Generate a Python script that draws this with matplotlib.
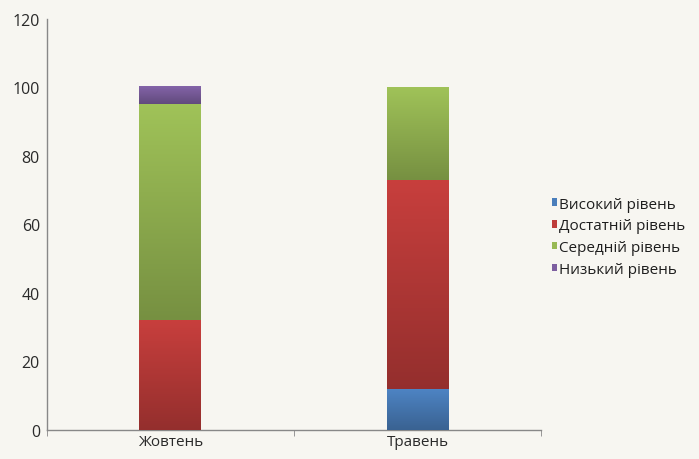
import numpy as np
import matplotlib.pyplot as plt
from matplotlib.patches import Patch

plt.rcParams['font.family'] = ['Open Sans', 'DejaVu Sans']

# Data
months = ["Жовтень", "Травень"]
levels = ["Високий рівень", "Достатній рівень", "Середній рівень", "Низький рівень"]
high = [0, 12]
sufficient = [32, 61]
medium = [63, 27]
low = [5, 0]
colors = ["#4a7ebb", "#be3c3a", "#98b954", "#7d5fa0"]

bg = "#f7f6f1"
fig = plt.figure(figsize=(6.99, 4.6), dpi=100, facecolor=bg)
ax = fig.add_axes([0.067, 0.063, 0.707, 0.894], facecolor=bg)

x = np.arange(len(months))
bottom = np.zeros(len(months))
series = [high, sufficient, medium, low]


def shade(c, f):
    rgb = np.array(plt.matplotlib.colors.to_rgb(c))
    return np.clip(rgb * f, 0, 1)


for vals, col in zip(series, colors):
    bars = ax.bar(x, vals, 0.25, bottom=bottom, color=col, zorder=2)
    for b in bars:
        h = b.get_height()
        if h <= 0:
            continue
        x0, y0 = b.get_x(), b.get_y()
        w = b.get_width()
        # vertical gradient: lighter on top, darker at bottom
        grad = np.linspace(0, 1, 64)[:, None, None]
        top = shade(col, 1.05)
        bot = shade(col, 0.78)
        img = bot + (top - bot) * grad
        img = np.repeat(img, 2, axis=1)
        ax.imshow(img, extent=[x0, x0 + w, y0, y0 + h], origin="lower",
                  aspect="auto", zorder=3, interpolation="bilinear")
    bottom += np.array(vals)

ax.set_xlim(-0.5, 1.5)
ax.set_ylim(0, 120)
ax.set_yticks(range(0, 121, 20))
ax.set_xticks(x)
ax.set_xticklabels(months)
ax.set_xticks([-0.5, 0.5, 1.5], minor=True)
ax.tick_params(axis="x", which="major", length=0, labelsize=11, colors="#2a2a2a", pad=3)
ax.tick_params(axis="x", which="minor", length=4, color="#888888")
ax.tick_params(axis="y", length=0, labelsize=11.5, colors="#2a2a2a", pad=5)

for s in ["top", "right"]:
    ax.spines[s].set_visible(False)
for s in ["left", "bottom"]:
    ax.spines[s].set_color("#888888")
    ax.spines[s].set_linewidth(1.0)

handles = [Patch(facecolor=c, label=l) for c, l in zip(colors, levels)]
fig.legend(handles=handles, loc="center left", bbox_to_anchor=(0.776, 0.483),
           frameon=False, fontsize=11, handlelength=0.35, handleheight=0.35,
           handletextpad=0.15, labelspacing=0.45, labelcolor="#1e1e1e",
           borderpad=0.1)

fig.savefig("out.png", dpi=100, facecolor=bg)
